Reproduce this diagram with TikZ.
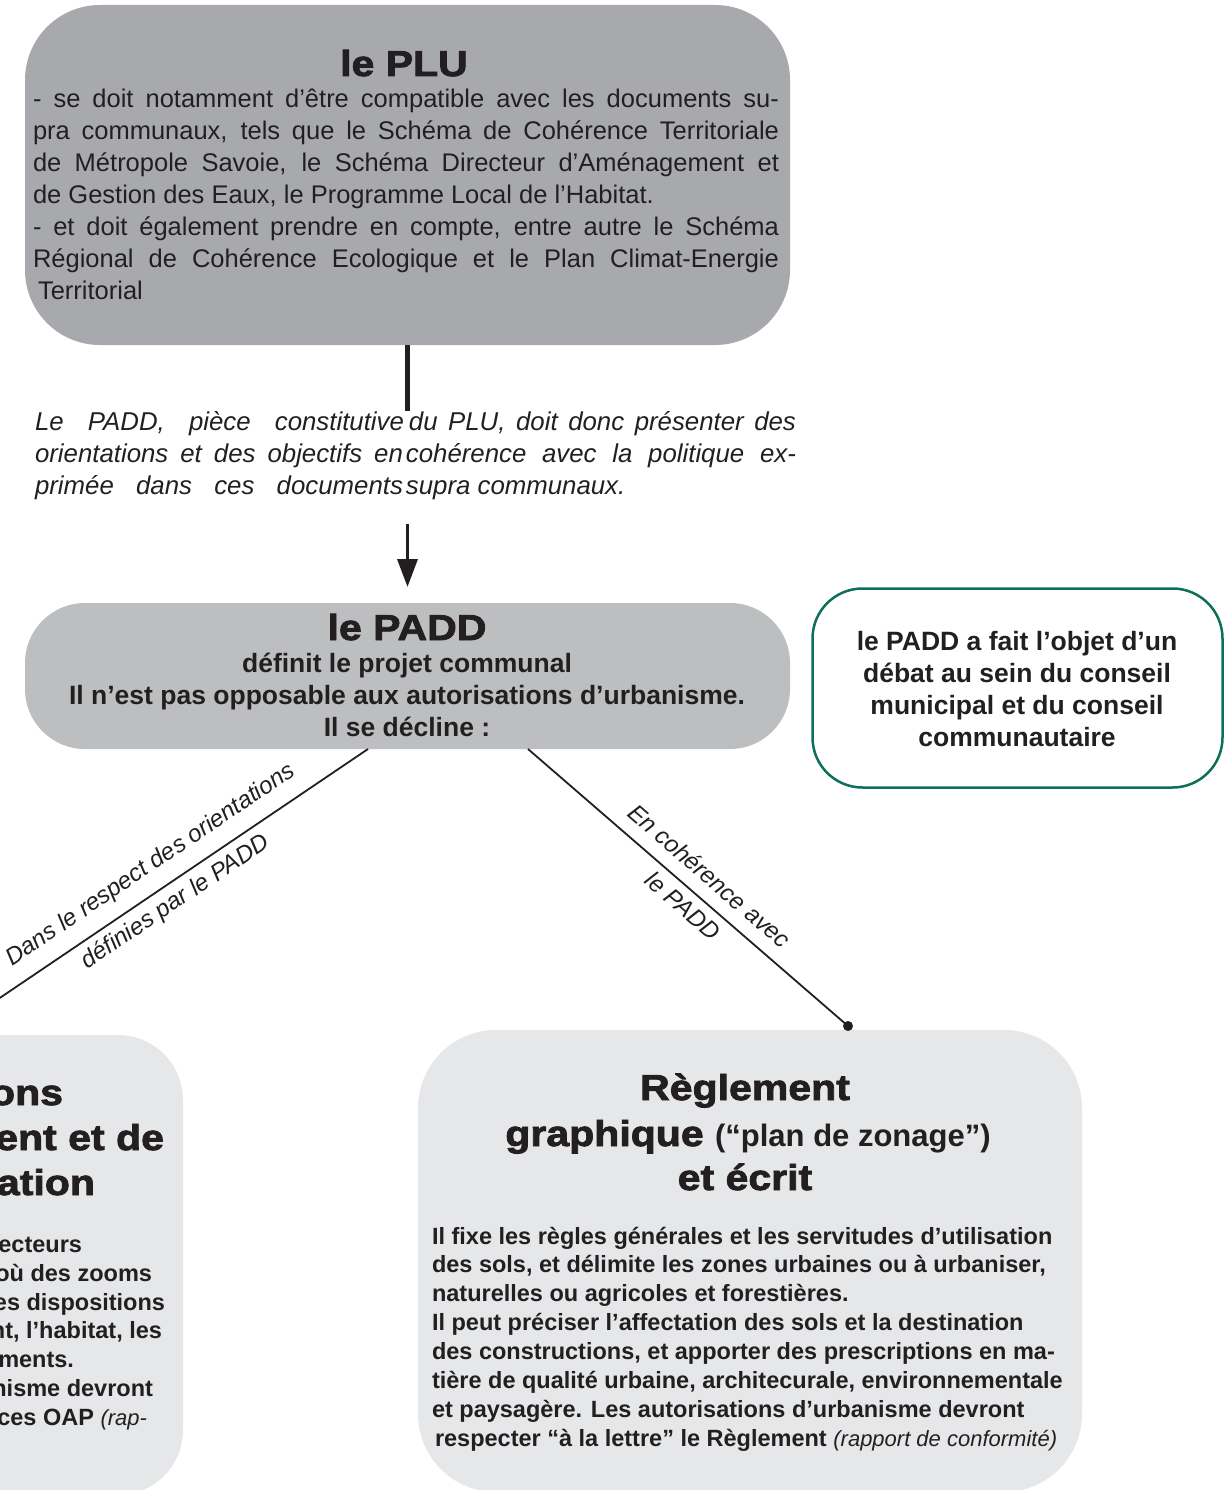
\documentclass[tikz,border=0pt]{standalone}
\usepackage{fontspec}
\setmainfont{Liberation Sans}
\newfontfamily\blackfont[FakeBold=2.3,FakeStretch=1.14]{Liberation Sans Bold}
\usetikzlibrary{arrows.meta,calc}
\definecolor{plugray}{HTML}{A7A9AC}
\definecolor{paddgray}{HTML}{BCBEC0}
\definecolor{lowgray}{HTML}{E6E7E8}
\definecolor{tealgreen}{HTML}{0E6E5A}
\definecolor{ink}{HTML}{231F20}
\tikzset{
  panel/.style={rectangle, inner sep=0pt, outer sep=0pt},
  txt/.style={inner sep=0pt, outer sep=0pt, text=ink},
  body/.style={txt, font=\fontsize{25.5pt}{32pt}\selectfont},
  ttl/.style={txt, font=\blackfont\fontsize{36pt}{45pt}\selectfont},
  bbody/.style={txt, font=\bfseries\fontsize{26.5pt}{32pt}\selectfont},
  rbody/.style={txt, font=\bfseries\fontsize{23.5pt}{28.9pt}\selectfont},
  lab/.style={txt, font=\itshape\fontsize{24pt}{28pt}\selectfont},
  conn/.style={draw=ink, line width=1.8pt},
  vline/.style={draw=ink, line width=4.2pt},
  arr/.style={draw=ink, line width=3.5pt, -{Triangle[width=20pt,length=28pt]}}
}
\begin{document}
\begin{tikzpicture}[x=1pt,y=-1pt]
\useasboundingbox (0,0) rectangle (1226,1490);
\clip (0,0) rectangle (1226,1490);

% boxes
\node[panel, fill=plugray, minimum width=765pt, minimum height=340pt, rounded corners=75pt] (plu) at (407.5,175) {};
\node[panel, fill=paddgray, minimum width=765pt, minimum height=146pt, rounded corners=60pt] (padd) at (407.5,676) {};
\node[panel, draw=tealgreen, line width=2.5pt, fill=white, minimum width=410pt, minimum height=199pt, rounded corners=50pt] (green) at (1017.5,688) {};
\node[panel, fill=lowgray, minimum width=683pt, minimum height=460pt, rounded corners=65pt] (oap) at (-158.5,1265) {};
\node[panel, fill=lowgray, minimum width=664pt, minimum height=462pt, rounded corners=78pt] (reg) at (750,1261) {};

% PLU
\node[ttl, anchor=base] (plutitle) at (404,76) {le PLU};
\node[body, anchor=base west] (plubody) at (33,108) {\parbox[t]{746pt}{%
\makebox[746pt][s]{- se doit notamment d’être compatible avec les documents su-}\\
\makebox[746pt][s]{pra communaux, tels que le Schéma de Cohérence Territoriale}\\
\makebox[746pt][s]{de Métropole Savoie, le Schéma Directeur d’Aménagement et}\\
de Gestion des Eaux, le Programme Local de l’Habitat.\\
\makebox[746pt][s]{- et doit également prendre en compte, entre autre le Schéma}\\
\makebox[746pt][s]{Régional de Cohérence Ecologique et le Plan Climat-Energie}\\
\hspace*{5pt}Territorial}};

% italic paragraph
\node[txt, font=\itshape\fontsize{25.8pt}{32pt}\selectfont, anchor=base west] (para) at (35,430) {\parbox[t]{761pt}{%
\makebox[369pt][s]{Le PADD, pièce constitutive}\hspace{5pt}\makebox[387pt][s]{du PLU, doit donc présenter des}\\
\makebox[368pt][s]{orientations et des objectifs en}\hspace{3pt}\makebox[390pt][s]{cohérence avec la politique ex-}\\
\makebox[368pt][s]{primée dans ces documents}\hspace{3pt}supra communaux.}};

% PADD
\node[ttl, anchor=base] (paddtitle) at (407,640) {le PADD};
\node[bbody, anchor=base] (paddtxt) at (407,672) {\parbox[t]{740pt}{\centering définit le projet communal\\Il n’est pas opposable aux autorisations d’urbanisme.\\Il se décline :}};

% green note
\node[bbody, anchor=base] (greentxt) at (1017,650) {\parbox[t]{400pt}{\centering le PADD a fait l’objet d’un\\débat au sein du conseil\\municipal et du conseil\\communautaire}};

% OAP (cut) box texts
\node[ttl, anchor=base east] (oapt1) at (63,1105) {ons};
\node[ttl, anchor=base east] (oapt2) at (164,1150) {ent et de};
\node[ttl, anchor=base east] (oapt3) at (95,1195) {ation};
\node[rbody, anchor=base east] (oapb1) at (82,1252) {ecteurs};
\node[rbody, anchor=base east] (oapb2) at (152,1281) {où des zooms};
\node[rbody, anchor=base east] (oapb3) at (165,1310) {es dispositions};
\node[rbody, anchor=base east] (oapb4) at (162,1338) {nt, l’habitat, les};
\node[rbody, anchor=base east] (oapb5) at (74,1367) {ments.};
\node[rbody, anchor=base east] (oapb6) at (153,1396) {nisme devront};
\node[rbody, anchor=base east] (oapb7) at (147,1425) {ces OAP {\mdseries\itshape\fontsize{22pt}{28pt}\selectfont(rap-}};

% Reglement
\node[ttl, anchor=base] (regt1) at (745,1100) {Règlement};
\node[ttl, anchor=base] (regt2) at (748,1146) {graphique {\normalfont\bfseries\fontsize{31pt}{33pt}\selectfont(“plan de zonage”)}};
\node[ttl, anchor=base] (regt3) at (745,1190) {et écrit};
\node[rbody, anchor=base west] (regbody) at (432,1244) {\parbox[t]{660pt}{\raggedright
Il fixe les règles générales et les servitudes d’utilisation\\
des sols, et délimite les zones urbaines ou à urbaniser,\\
naturelles ou agricoles et forestières.\\
Il peut préciser l’affectation des sols et la destination\\
des constructions, et apporter des prescriptions en ma-\\
tière de qualité urbaine, architecurale, environnementale\\
et paysagère. Les autorisations d’urbanisme devront\\
\hspace*{3pt}respecter “à la lettre” le Règlement {\mdseries\itshape\fontsize{22pt}{28.9pt}\selectfont(rapport de conformité)}}};

% connectors
\draw[vline] (plu.south) -- (plu.south |- para.north);
\draw[arr, shorten <=25pt, shorten >=16pt] (para.south -| padd.north) -- (padd.north);

\coordinate (oapend) at ([xshift=103.5pt]oap.north);
\draw[conn] (oapend) -- node[lab, sloped, above=14pt, pos=0.52] (labA) {Dans le respect des orientations}
  node[lab, sloped, below=8pt, pos=0.52] (labB) {définies par le PADD} ([xshift=-39.5pt]padd.south);

\coordinate (regend) at ([xshift=98pt,yshift=4pt]reg.north);
\draw[conn] ([xshift=120.5pt]padd.south) -- node[lab, sloped, above=14pt, pos=0.52] (labC) {En cohérence avec}
  node[lab, sloped, below=8pt, pos=0.52] (labD) {le PADD} (regend);
\fill[ink] (regend) circle (5pt);
\end{tikzpicture}
\end{document}
